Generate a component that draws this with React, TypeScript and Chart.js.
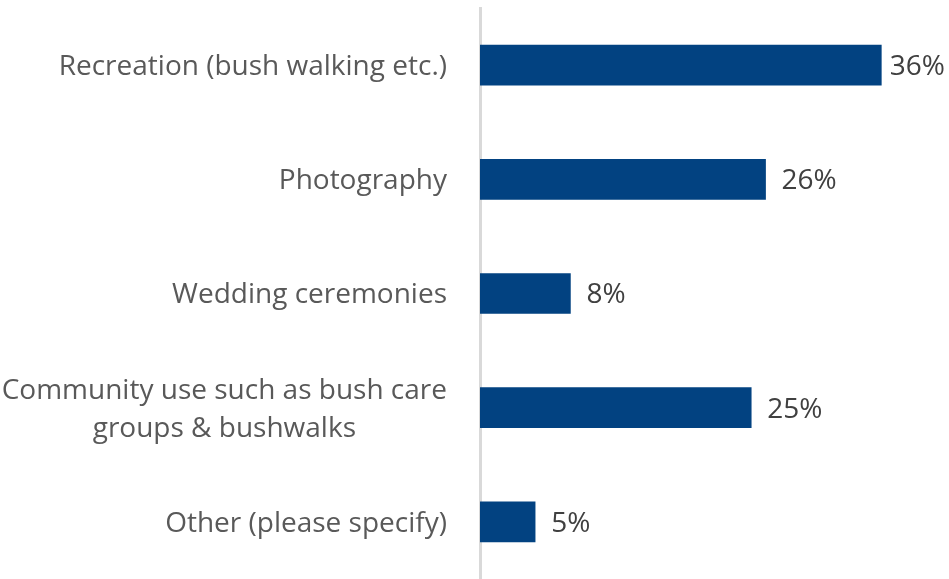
import React, { useEffect, useRef } from "react";
import { Chart, registerables } from "chart.js";

Chart.register(...registerables);

const categories: string[][] = [
  ["Recreation (bush walking etc.)"],
  ["Photography"],
  ["Wedding ceremonies"],
  ["Community use such as bush care", "groups & bushwalks"],
  ["Other (please specify)"],
];
const values: number[] = [36.4, 25.9, 8.2, 24.6, 5.0];
const valueLabels: string[] = ["36%", "26%", "8%", "25%", "5%"];

const FONT = "'Open Sans', 'Noto Sans', sans-serif";
const FONT_SIZE = 28;

const labelPlugin = {
  id: "customLabels",
  afterDatasetsDraw(chart: any) {
    const ctx = chart.ctx;
    const yScale = chart.scales.y;
    const meta = chart.getDatasetMeta(0);
    ctx.save();
    ctx.font = `${FONT_SIZE}px ${FONT}`;
    // category labels
    ctx.fillStyle = "#595959";
    ctx.textBaseline = "middle";
    const labelRight = chart.chartArea.left - 33;
    const lineH = 38;
    categories.forEach((lines, i) => {
      const cy = yScale.getPixelForValue(i) + 2;
      const widths = lines.map((l) => ctx.measureText(l).width);
      const maxW = Math.max(...widths);
      const centerX = labelRight - maxW / 2;
      lines.forEach((l, j) => {
        const y = cy + (j - (lines.length - 1) / 2) * lineH;
        ctx.textAlign = "center";
        ctx.fillText(l, centerX, y);
      });
    });
    // value labels
    ctx.fillStyle = "#404040";
    ctx.textAlign = "left";
    meta.data.forEach((bar: any, i: number) => {
      const txt = valueLabels[i];
      const w = ctx.measureText(txt).width;
      let x = bar.x + 16;
      if (x + w > chart.width - 4) x = chart.width - 4 - w;
      ctx.fillText(txt, x, bar.y + 2);
    });
    ctx.restore();
  },
};

export default function App() {
  const ref = useRef<HTMLCanvasElement | null>(null);
  useEffect(() => {
    document.body.style.margin = "0";
    const chart = new Chart(ref.current as HTMLCanvasElement, {
      type: "bar",
      data: {
        labels: categories.map((c) => c.join(" ")),
        datasets: [
          {
            data: values,
            backgroundColor: "#024281",
            barThickness: 40,
          },
        ],
      },
      options: {
        indexAxis: "y",
        animation: false,
        responsive: false,
        layout: { padding: { top: 8, right: 28, bottom: 0, left: 0 } },
        plugins: { legend: { display: false }, tooltip: { enabled: false } },
        scales: {
          x: {
            min: 0,
            max: 40,
            display: false,
          },
          y: {
            ticks: { display: false },
            grid: { display: false },
            border: { display: true, color: "#d9d9d9", width: 3 },
            afterFit: (scale: any) => {
              scale.width = 480;
            },
          },
        },
      },
      plugins: [labelPlugin],
    });
    return () => chart.destroy();
  }, []);
  return (
    <div style={{ width: 949, height: 579 }}>
      <canvas ref={ref} width={949} height={579} style={{ display: "block" }} />
    </div>
  );
}
